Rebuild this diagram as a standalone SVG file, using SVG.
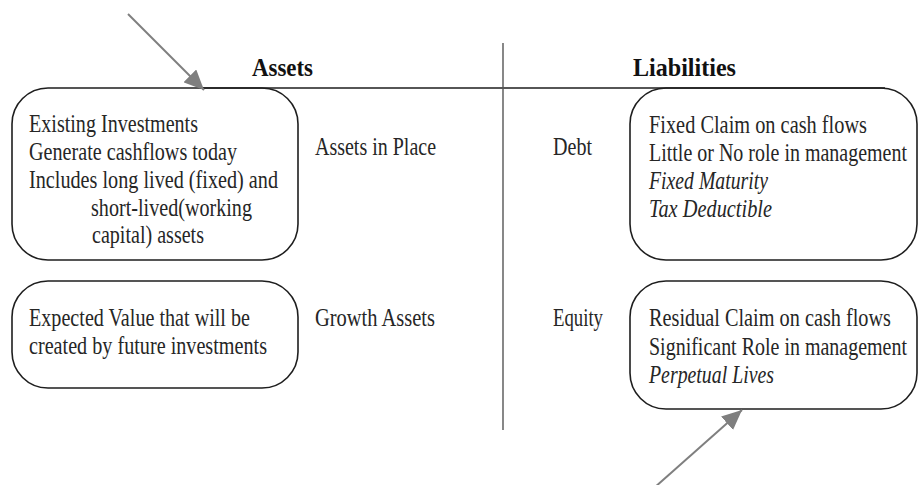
<svg xmlns="http://www.w3.org/2000/svg" width="918" height="485" viewBox="0 0 918 485">
<style>
.box{fill:none;stroke:#1e1e1e;stroke-width:1.6}
.rule{stroke:#1e1e1e;stroke-width:1.6}
.vrule{stroke:#555;stroke-width:1.4}
.t{font-family:"Liberation Serif","Times New Roman",serif;font-size:24.5px;fill:#262626}
.i{font-style:italic}
.h{font-family:"Liberation Serif","Times New Roman",serif;font-size:26px;font-weight:bold;fill:#111}
.arr{stroke:#7f7f7f;stroke-width:2;fill:none;marker-end:url(#ah)}
</style>
<defs>
<marker id="ah" markerUnits="userSpaceOnUse" markerWidth="20" markerHeight="18" refX="20" refY="9" orient="auto">
<path d="M0,0 L20,9 L0,18 z" fill="#7f7f7f"/>
</marker>
</defs>
<rect width="918" height="485" fill="#ffffff"/>
<g id="frame">
<line class="rule" x1="200" y1="88" x2="885" y2="88"/>
<line class="vrule" x1="503" y1="43" x2="503" y2="430"/>
<text class="h" x="252" y="76" textLength="61" lengthAdjust="spacingAndGlyphs">Assets</text>
<text class="h" x="633" y="76" textLength="103" lengthAdjust="spacingAndGlyphs">Liabilities</text>
</g>
<g id="assets-in-place">
<rect class="box" x="12" y="88" width="286" height="172" rx="36" ry="36"/>
<text class="t" x="29" y="132" textLength="169" lengthAdjust="spacingAndGlyphs">Existing Investments</text>
<text class="t" x="29" y="160" textLength="208" lengthAdjust="spacingAndGlyphs">Generate cashflows today</text>
<text class="t" x="29" y="188" textLength="249" lengthAdjust="spacingAndGlyphs">Includes long lived (fixed) and</text>
<text class="t" x="91" y="216" textLength="161" lengthAdjust="spacingAndGlyphs">short-lived(working</text>
<text class="t" x="92" y="243" textLength="112" lengthAdjust="spacingAndGlyphs">capital) assets</text>
<text class="t" x="315" y="155" textLength="121" lengthAdjust="spacingAndGlyphs">Assets in Place</text>
</g>
<g id="growth-assets">
<rect class="box" x="12" y="281" width="286" height="107" rx="36" ry="36"/>
<text class="t" x="29" y="326" textLength="221" lengthAdjust="spacingAndGlyphs">Expected Value that will be</text>
<text class="t" x="29" y="354" textLength="238" lengthAdjust="spacingAndGlyphs">created by future investments</text>
<text class="t" x="315" y="326" textLength="120" lengthAdjust="spacingAndGlyphs">Growth Assets</text>
</g>
<g id="debt">
<rect class="box" x="630" y="88" width="287" height="172" rx="36" ry="36"/>
<text class="t" x="553" y="155" textLength="39" lengthAdjust="spacingAndGlyphs">Debt</text>
<text class="t" x="649" y="133" textLength="218" lengthAdjust="spacingAndGlyphs">Fixed Claim on cash flows</text>
<text class="t" transform="translate(649,161) scale(0.8,1)" x="0" y="0" textLength="322.5" lengthAdjust="spacingAndGlyphs">Little or No role in management</text>
<text class="t i" x="649" y="189" textLength="119" lengthAdjust="spacingAndGlyphs">Fixed Maturity</text>
<text class="t i" x="649" y="217" textLength="123" lengthAdjust="spacingAndGlyphs">Tax Deductible</text>
</g>
<g id="equity">
<rect class="box" x="630" y="281" width="287" height="128" rx="36" ry="36"/>
<text class="t" x="553" y="326" textLength="50" lengthAdjust="spacingAndGlyphs">Equity</text>
<text class="t" transform="translate(649,326) scale(0.8,1)" x="0" y="0" textLength="302.5" lengthAdjust="spacingAndGlyphs">Residual Claim on cash flows</text>
<text class="t" transform="translate(649,355) scale(0.8,1)" x="0" y="0" textLength="322.5" lengthAdjust="spacingAndGlyphs">Significant Role in management</text>
<text class="t i" x="649" y="383" textLength="125" lengthAdjust="spacingAndGlyphs">Perpetual Lives</text>
</g>
<g id="connectors">
<line class="arr" x1="128" y1="14" x2="204" y2="90"/>
<line class="arr" x1="654" y1="488" x2="742" y2="410"/>
</g>
</svg>
